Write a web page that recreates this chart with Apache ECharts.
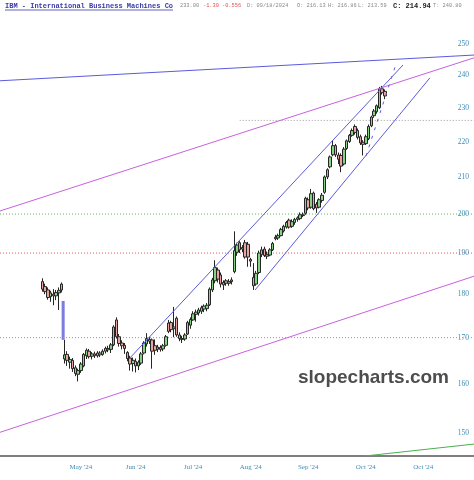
<!DOCTYPE html>
<html><head><meta charset="utf-8">
<script src="https://cdn.jsdelivr.net/npm/echarts@6/dist/echarts.min.js"></script>
<style>html,body{margin:0;padding:0;background:#fff}#c{width:474px;height:480px}</style>
</head><body><div id="c"></div>
<script>
// ---- data ----
const dates = [
'2024-04-15','2024-04-16','2024-04-17','2024-04-18','2024-04-19','2024-04-22','2024-04-23','2024-04-24','2024-04-25','2024-04-26','2024-04-29','2024-04-30',
'2024-05-01','2024-05-02','2024-05-03','2024-05-06','2024-05-07','2024-05-08','2024-05-09','2024-05-10','2024-05-13','2024-05-14','2024-05-15','2024-05-16','2024-05-17','2024-05-20','2024-05-21','2024-05-22','2024-05-23','2024-05-24','2024-05-28','2024-05-29','2024-05-30','2024-05-31',
'2024-06-03','2024-06-04','2024-06-05','2024-06-06','2024-06-07','2024-06-10','2024-06-11','2024-06-12','2024-06-13','2024-06-14','2024-06-17','2024-06-18','2024-06-20','2024-06-21','2024-06-24','2024-06-25','2024-06-26','2024-06-27','2024-06-28',
'2024-07-01','2024-07-02','2024-07-03','2024-07-05','2024-07-08','2024-07-09','2024-07-10','2024-07-11','2024-07-12','2024-07-15','2024-07-16','2024-07-17','2024-07-18','2024-07-19','2024-07-22','2024-07-23','2024-07-24','2024-07-25','2024-07-26','2024-07-29','2024-07-30','2024-07-31',
'2024-08-01','2024-08-02','2024-08-05','2024-08-06','2024-08-07','2024-08-08','2024-08-09','2024-08-12','2024-08-13','2024-08-14','2024-08-15','2024-08-16','2024-08-19','2024-08-20','2024-08-21','2024-08-22','2024-08-23','2024-08-26','2024-08-27','2024-08-28','2024-08-29','2024-08-30',
'2024-09-03','2024-09-04','2024-09-05','2024-09-06','2024-09-09','2024-09-10','2024-09-11','2024-09-12','2024-09-13','2024-09-16','2024-09-17','2024-09-18','2024-09-19','2024-09-20','2024-09-23','2024-09-24','2024-09-25','2024-09-26','2024-09-27','2024-09-30',
'2024-10-01','2024-10-02','2024-10-03','2024-10-04','2024-10-07','2024-10-08','2024-10-09','2024-10-10','2024-10-11'
];
const opens = [183.0,181.8,181.0,179.4,180.0,179.6,180.3,181.0,165.3,166.3,164.6,165.0,
163.4,162.0,162.8,163.8,166.0,167.0,165.9,166.4,166.0,166.6,166.3,167.0,167.6,167.4,168.4,174.0,170.2,168.8,168.3,166.7,165.5,164.3,
164.8,163.8,164.4,166.6,168.6,169.6,169.5,168.2,167.4,167.8,167.5,168.3,173.3,173.4,172.0,174.4,170.6,169.8,169.7,
170.8,172.8,174.0,175.3,175.6,176.0,176.5,176.6,177.5,181.0,183.2,185.8,184.6,182.8,182.6,183.0,183.0,185.4,190.2,192.6,191.0,192.6,
192.2,188.4,184.0,182.4,185.2,189.6,191.0,189.6,189.5,190.8,193.6,193.8,194.4,195.6,196.6,198.4,196.8,197.8,198.6,198.8,199.6,200.2,
203.8,201.8,205.6,202.6,201.8,203.6,205.8,210.0,212.8,216.2,218.8,216.13,216.0,213.6,218.0,220.0,221.8,224.4,223.2,221.4,
219.8,219.4,220.8,224.6,227.6,228.8,230.0,235.8,235.0];
const highs = [183.8,182.5,181.6,180.8,181.2,181.0,181.6,182.8,169.5,167.0,165.8,165.5,
163.9,163.2,164.6,166.6,167.6,167.5,166.8,166.9,167.0,167.0,167.4,168.0,168.2,168.8,172.8,174.6,170.8,169.4,168.8,167.0,166.0,165.6,
165.4,165.0,166.8,169.2,171.0,170.2,169.8,169.6,168.4,168.3,168.6,170.6,174.0,173.8,177.0,174.8,171.2,170.4,171.0,
173.8,174.6,176.0,176.4,176.8,177.3,177.6,177.9,181.6,183.9,188.2,186.4,185.2,183.3,183.6,183.6,184.0,195.5,192.6,193.0,192.0,193.3,
192.8,188.8,187.5,185.6,190.6,191.6,191.6,190.4,191.2,192.8,194.6,194.9,196.4,197.2,198.2,198.8,198.6,199.0,199.4,200.4,200.4,204.6,
204.4,206.7,206.0,203.2,204.2,205.6,210.4,212.4,216.0,220.4,219.3,216.86,216.6,218.4,220.6,222.2,223.8,225.0,223.8,222.0,
220.4,222.0,225.0,227.6,229.6,231.0,236.4,236.7,235.6];
const lows = [180.6,180.0,178.7,178.2,177.4,178.6,176.3,180.4,164.3,163.8,163.2,162.5,
161.6,160.5,162.3,163.5,165.3,165.4,165.2,165.5,165.6,165.7,166.0,166.5,166.8,166.6,168.1,169.8,168.0,167.4,166.4,164.8,162.8,162.6,
162.4,162.9,164.0,166.3,168.0,168.6,163.2,166.2,166.8,166.9,167.0,168.0,171.0,171.2,170.1,170.2,169.2,168.8,169.3,
170.6,172.0,173.8,173.6,175.0,175.4,175.8,176.0,177.2,180.5,182.6,182.8,181.6,181.0,182.0,182.0,182.3,185.0,189.3,190.0,190.2,188.6,
186.6,186.6,181.0,182.0,184.8,189.0,189.0,188.5,189.2,190.5,193.2,193.3,194.2,195.2,196.2,196.2,196.4,197.2,198.0,198.4,199.2,199.8,
201.0,201.4,201.0,200.3,201.5,203.0,205.4,209.4,212.4,215.8,215.6,213.59,211.3,213.2,217.6,219.6,221.4,222.0,220.6,219.0,
216.0,219.0,220.4,224.2,227.0,228.2,229.6,234.0,232.6];
const closes = [181.2,180.6,179.2,180.3,179.6,180.4,180.9,182.4,166.2,165.0,165.2,163.2,
162.2,162.8,164.2,166.3,167.2,165.8,166.4,166.0,166.6,166.2,167.0,167.6,167.3,168.4,172.4,170.2,168.7,168.2,167.6,165.4,164.2,165.0,
163.8,164.6,166.4,168.8,169.8,169.2,167.0,167.2,167.9,167.4,168.2,170.2,171.4,171.8,172.4,170.6,169.8,169.6,170.6,
173.4,174.1,175.4,175.8,176.3,176.8,177.2,177.4,181.2,183.4,186.4,183.6,182.4,182.2,183.2,182.6,183.4,190.6,192.0,190.8,191.4,189.0,
189.0,188.0,182.0,185.0,190.0,190.8,189.4,189.2,190.8,192.4,194.0,194.4,196.0,196.8,197.8,196.6,198.0,198.6,199.0,199.8,199.8,204.2,
201.6,205.4,201.4,201.6,203.8,205.0,210.0,212.0,215.6,218.8,216.2,214.94,213.0,217.8,220.2,221.8,223.2,222.6,221.2,219.6,
219.2,221.4,224.4,227.2,229.0,230.6,235.8,234.6,233.6];

const padBefore = 15;   // empty trading slots left of the first bar
const padAfter = 32;    // empty slots right of the last bar
const xTickIndex = [29, 49, 70, 91, 112, 133, 154];
const xTickLabels = ["May '24", "Jun '24", "Jul '24", "Aug '24", "Sep '24", "Oct '24", "Oct '24"];
const yTicks = [150, 160, 170, 180, 190, 200, 210, 220, 230, 240, 250];
const yRange = [145.5, 265.0];

// horizontal levels: [price, start slot]
const levelGreen = [200, -0.5];
const levelRed = [190, -0.5];
const levelGrey = [170, -0.5];
const levelGrey2 = [226.2, 87];
// trend lines: [[slot, price], [slot, price]]
const lineBlueTop = [[-0.5, 238.3], [172.5, 246.5]];
const linePurpleUp = [[-0.5, 200.8], [172.5, 245.6]];
const linePurpleLow = [[-0.5, 150.1], [172.5, 184.3]];
const lineChanUp = [[46.9, 165.5], [146.6, 243.3]];
const lineChanLow = [[92.6, 181.0], [156.4, 239.2]];
const lineGreen = [[132.7, 145.5], [172.5, 147.8]];
const lineDash = [[133.1, 215.9], [143.7, 242.7]];
const gapBar = [[22.0, 178.4], [23.1, 169.5]];

// ---- build ----
const L = Math.log;
const cats = [];
for (let i = 0; i < padBefore; i++) cats.push('pre' + i);
dates.forEach(d => cats.push(d));
for (let i = 0; i < padAfter; i++) cats.push('post' + i);
const N = cats.length;
const candleData = dates.map((d, k) => [d, L(opens[k]), L(closes[k]), L(lows[k]), L(highs[k])]);
const toLn = pts => pts.map(p => [p[0], L(p[1])]);

function lineSeries(pts, color, extra) {
  return Object.assign({
    type: 'line', xAxisIndex: 1, yAxisIndex: 0, data: toLn(pts), symbol: 'none',
    silent: true, animation: false, z: 3,
    lineStyle: { color: color, width: 1 }
  }, extra || {});
}
function levelSeries(lv, color) {
  return lineSeries([[lv[1], lv[0]], [N - 0.5, lv[0]]], color, { z: 1, lineStyle: { color: color, width: 1, type: [1, 2] } });
}

const hdrFont = '5.3px "Liberation Mono"';
function hdr(x, text, fill, font) {
  return { type: 'text', x: x, y: 6, style: { text: text, font: font || hdrFont, fill: fill, verticalAlign: 'middle' } };
}

const chart = echarts.init(document.getElementById('c'));
chart.setOption({
  animation: false,
  backgroundColor: '#ffffff',
  grid: { left: 0, right: 0, top: 0, bottom: 24 },
  xAxis: [{
    type: 'category', data: cats, boundaryGap: true,
    axisLine: { show: true, lineStyle: { color: '#555', width: 1.5 } },
    axisTick: { show: false },
    splitLine: { show: false },
    axisLabel: {
      color: '#3f8db3', fontFamily: 'Liberation Serif', fontSize: 7, margin: 8,
      interval: (idx) => xTickIndex.indexOf(idx) >= 0,
      formatter: (v, idx) => { const j = xTickIndex.indexOf(idx); return j >= 0 ? xTickLabels[j] : ''; }
    }
  }, {
    type: 'value', min: -0.5, max: N - 0.5, show: false
  }],
  yAxis: [{
    type: 'value', position: 'right', min: L(yRange[0]), max: L(yRange[1]), scale: true,
    axisLine: { show: false }, axisTick: { show: false }, splitLine: { show: false },
    axisLabel: {
      inside: true, margin: 5, color: '#3f8db3', fontFamily: 'Liberation Serif', fontSize: 7.5,
      customValues: yTicks.map(v => L(v)),
      formatter: v => String(Math.round(Math.exp(v)))
    }
  }],
  series: [
    levelSeries(levelGreen, '#5cb85c'),
    levelSeries(levelRed, '#e05a5a'),
    levelSeries(levelGrey, '#999999'),
    levelSeries(levelGrey2, '#999999'),
    lineSeries([[0, 200], [0, 200]], 'rgba(0,0,0,0)', {
      markArea: {
        silent: true,
        itemStyle: { color: '#7b7be0' },
        data: [[{ coord: [gapBar[0][0], L(gapBar[0][1])] }, { coord: [gapBar[1][0], L(gapBar[1][1])] }]]
      }
    }),
    {
      type: 'candlestick', xAxisIndex: 0, yAxisIndex: 0, z: 2,
      data: candleData,
      encode: { x: 0, y: [1, 2, 3, 4] },
      barWidth: 3,
      itemStyle: {
        color: '#86d386', color0: '#e8a3a3',
        borderColor: '#262626', borderColor0: '#262626', borderWidth: 1
      }
    },
    lineSeries(lineBlueTop, '#5b5bdc'),
    lineSeries(linePurpleUp, '#c860e0'),
    lineSeries(linePurpleLow, '#c860e0'),
    lineSeries(lineChanUp, '#5b5bdc'),
    lineSeries(lineChanLow, '#5b5bdc'),
    lineSeries(lineGreen, '#4caf50'),
    lineSeries(lineDash, '#5b5bdc', { lineStyle: { color: '#5b5bdc', width: 1, type: [3, 6] } })
  ],
  graphic: [
    hdr(5, 'IBM - International Business Machines Co', '#3a3aa8', 'bold 7px "Liberation Mono"'),
    { type: 'line', shape: { x1: 5, y1: 10, x2: 173, y2: 10 }, style: { stroke: '#3a3aa8', lineWidth: 0.8 } },
    hdr(180, '233.00', '#888'),
    hdr(203, '-1.30', '#e05050'),
    hdr(222, '-0.556', '#e05050'),
    hdr(247, 'D: 09/18/2024', '#888'),
    hdr(297, 'O: 216.13', '#888'),
    hdr(328, 'H: 216.86', '#888'),
    hdr(358, 'L: 213.59', '#888'),
    hdr(393, 'C: 214.94', '#222', 'bold 7px "Liberation Mono"'),
    hdr(433, 'T: 240.80', '#888'),
    { type: 'text', x: 298, y: 378, style: { text: 'slopecharts.com', font: 'bold 19px "Liberation Sans"', fill: '#4d4d4d', verticalAlign: 'middle' } }
  ]
});
</script>
</body></html>
